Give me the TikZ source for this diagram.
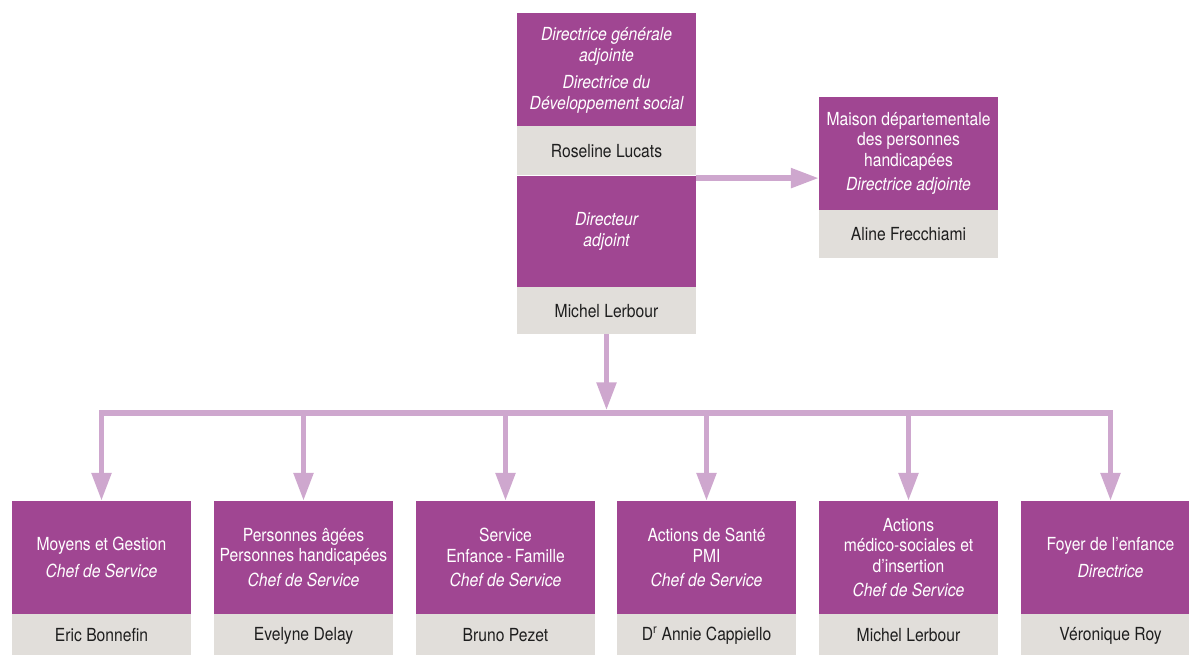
\documentclass[tikz,border=0pt]{standalone}
\usepackage{fontspec}
\setmainfont{TeX Gyre Heros}[FakeStretch=0.87]
\usetikzlibrary{arrows.meta,positioning}
\definecolor{orgpurple}{RGB}{160,70,146}
\definecolor{orggrey}{RGB}{225,222,218}
\definecolor{orglink}{RGB}{206,167,206}
\definecolor{orgtext}{RGB}{30,30,30}

\begin{document}
\begin{tikzpicture}[
  x=1pt, y=-1pt,
  font=\fontsize{18}{20.5}\selectfont,
  node distance=0pt,
  every node/.style={align=center, inner sep=2pt, minimum width=179pt},
  titlebox/.style={fill=orgpurple, text=white, minimum height=113pt},
  rolebox/.style={titlebox, font=\fontsize{18}{20.5}\selectfont\itshape},
  namebox/.style={fill=orggrey, text=orgtext, minimum height=48pt},
  link/.style={draw=orglink, line width=5.5pt},
  arrow/.style={link, -{Triangle[length=28pt, width=19pt]}},
]
\useasboundingbox (0,0) rectangle (1189,655);
% direction
\node[rolebox, text depth=2pt] (dga) at (606.5,69.5) {Directrice générale\\adjointe\\[7pt]Directrice du\\Développement social};
\node[namebox, minimum height=49pt, below=of dga] (dgaName) {Roseline Lucats};
\node[rolebox, minimum height=111pt, below=of dgaName] (adj) {Directeur\\adjoint};
\node[namebox, minimum height=47pt, below=of adj] (adjName) {Michel Lerbour};
% maison departementale
\node[titlebox] (mdph) at (908.5,153.5) {Maison départementale\\des personnes\\handicapées\\[4pt]\textit{Directrice adjointe}};
\node[namebox, below=of mdph] (mdphName) {Aline Frecchiami};
% services
\node[titlebox] (s1) at (101.5,557.5)  {Moyens et Gestion\\[6pt]\textit{Chef de Service}};
\node[titlebox] (s2) at (303.5,557.5)  {Personnes âgées\\Personnes handicapées\\[4pt]\textit{Chef de Service}};
\node[titlebox] (s3) at (505.5,557.5)  {Service\\Enfance\,-\,Famille\\[4pt]\textit{Chef de Service}};
\node[titlebox] (s4) at (706.5,557.5)  {Actions de Santé\\PMI\\[4pt]\textit{Chef de Service}};
\node[titlebox] (s5) at (908.5,557.5)  {Actions\\médico-sociales et\\d’insertion\\[4pt]\textit{Chef de Service}};
\node[titlebox] (s6) at (1110.5,557.5) {Foyer de l’enfance\\[6pt]\textit{Directrice}};
\node[namebox, minimum height=42pt, below=of s1] (s1Name) {Eric Bonnefin};
\node[namebox, minimum height=42pt, below=of s2] (s2Name) {Evelyne Delay};
\node[namebox, minimum height=42pt, below=of s3] (s3Name) {Bruno Pezet};
\node[namebox, minimum height=42pt, below=of s4] (s4Name) {D\textsuperscript{r} Annie Cappiello};
\node[namebox, minimum height=42pt, below=of s5] (s5Name) {Michel Lerbour};
\node[namebox, minimum height=42pt, below=of s6] (s6Name) {Véronique Roy};
% links
\coordinate (bus) at (606.5,413);
\draw[arrow] ([yshift=-2.5pt]adj.north east) -- ([yshift=-2.5pt]adj.north east -| mdph.west);
\draw[arrow, shorten >=2.75pt] (adjName.south) -- (bus);
\draw[link, line cap=rect] (bus -| s1.north) -- (bus -| s6.north);
\draw[arrow] (bus -| s1.north) -- (s1.north);
\draw[arrow] (bus -| s2.north) -- (s2.north);
\draw[arrow] (bus -| s3.north) -- (s3.north);
\draw[arrow] (bus -| s4.north) -- (s4.north);
\draw[arrow] (bus -| s5.north) -- (s5.north);
\draw[arrow] (bus -| s6.north) -- (s6.north);
\end{tikzpicture}
\end{document}
